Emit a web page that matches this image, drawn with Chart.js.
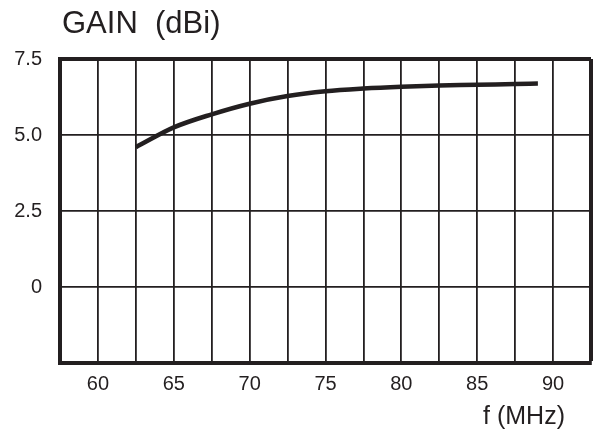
<!DOCTYPE html>
<html>
<head>
<meta charset="utf-8">
<script src="https://cdn.jsdelivr.net/npm/chart.js@4/dist/chart.umd.min.js"></script>
<style>
    html, body { margin: 0; padding: 0; background: #fff; }
    #wrap { width: 593px; height: 434px; position: relative; }
</style>
</head>
<body>
<div id="wrap"><canvas id="chartGanho"></canvas></div>
<script>
// dados (f em MHz, ganho em dBi)
const freqMHz = [62.5, 65, 67.5, 70, 72.5, 75, 77.5, 80, 82.5, 85, 87.5, 89];
const ganhoDbi = [4.6, 5.25, 5.68, 6.03, 6.28, 6.44, 6.53, 6.59, 6.63, 6.65, 6.68, 6.69];

// eixos
const xMin = 57.5, xMax = 92.5, xStep = 2.5;
const yMin = -2.5, yMax = 7.5, yStep = 2.5;
const xLabels = [60, 65, 70, 75, 80, 85, 90];
const yLabels = [7.5, 5, 2.5, 0];

const TINTA = '#231f20';
const FONTE = "'Liberation Sans', Arial, sans-serif";

// textos fora do grafico: titulo e rotulo do eixo x
const textosExtras = {
    id: 'textosExtras',
    afterDraw(chart) {
        const ctx = chart.ctx;
        ctx.save();
        ctx.fillStyle = TINTA;
        ctx.textBaseline = 'middle';
        ctx.font = '31px ' + FONTE;
        ctx.textAlign = 'left';
        ctx.fillText('GAIN  (dBi)', chart.chartArea.left + 2, 24);
        ctx.font = '25px ' + FONTE;
        ctx.textAlign = 'right';
        ctx.fillText('f (MHz)', 565, 417);
        ctx.restore();
    }
};

const larguraGrade = (valor, borda) => (valor === borda ? 4 : 1.8);

new Chart(document.getElementById('chartGanho').getContext('2d'), {
    type: 'line',
    data: {
        datasets: [{
            data: freqMHz.map((f, i) => ({ x: f, y: ganhoDbi[i] })),
            borderColor: TINTA,
            borderWidth: 4.5,
            pointRadius: 0,
            cubicInterpolationMode: 'monotone',
            fill: false
        }]
    },
    options: {
        responsive: true,
        maintainAspectRatio: false,
        animation: false,
        layout: { padding: { top: 59, right: 2, left: 0, bottom: 0 } },
        plugins: {
            legend: { display: false },
            tooltip: { enabled: false }
        },
        scales: {
            x: {
                type: 'linear',
                min: xMin,
                max: xMax,
                afterBuildTicks: s => {
                    const t = [];
                    for (let v = xMin; v <= xMax + 1e-6; v += xStep) t.push({ value: v });
                    s.ticks = t;
                },
                afterFit: s => {
                    s.height = 71;
                    s.paddingLeft = 0;
                    s.paddingRight = 0;
                },
                ticks: {
                    autoSkip: false,
                    maxRotation: 0,
                    padding: 9,
                    color: TINTA,
                    font: { family: FONTE, size: 20 },
                    callback: v => (xLabels.includes(v) ? String(v) : '')
                },
                grid: {
                    drawTicks: false,
                    color: TINTA,
                    lineWidth: c => larguraGrade(c.tick && c.tick.value, xMax)
                },
                border: { display: true, color: TINTA, width: 4 }
            },
            y: {
                min: yMin,
                max: yMax,
                afterBuildTicks: s => {
                    const t = [];
                    for (let v = yMin; v <= yMax + 1e-6; v += yStep) t.push({ value: v });
                    s.ticks = t;
                },
                afterFit: s => {
                    s.width = 60;
                    s.paddingTop = 0;
                    s.paddingBottom = 0;
                },
                ticks: {
                    padding: 18,
                    color: TINTA,
                    font: { family: FONTE, size: 20 },
                    callback: v => {
                        if (!yLabels.includes(v)) return '';
                        return v === 0 ? '0' : v.toFixed(1);
                    }
                },
                grid: {
                    drawTicks: false,
                    color: TINTA,
                    lineWidth: c => larguraGrade(c.tick && c.tick.value, yMax)
                },
                border: { display: true, color: TINTA, width: 4 }
            }
        }
    },
    plugins: [textosExtras]
});
</script>
</body>
</html>
